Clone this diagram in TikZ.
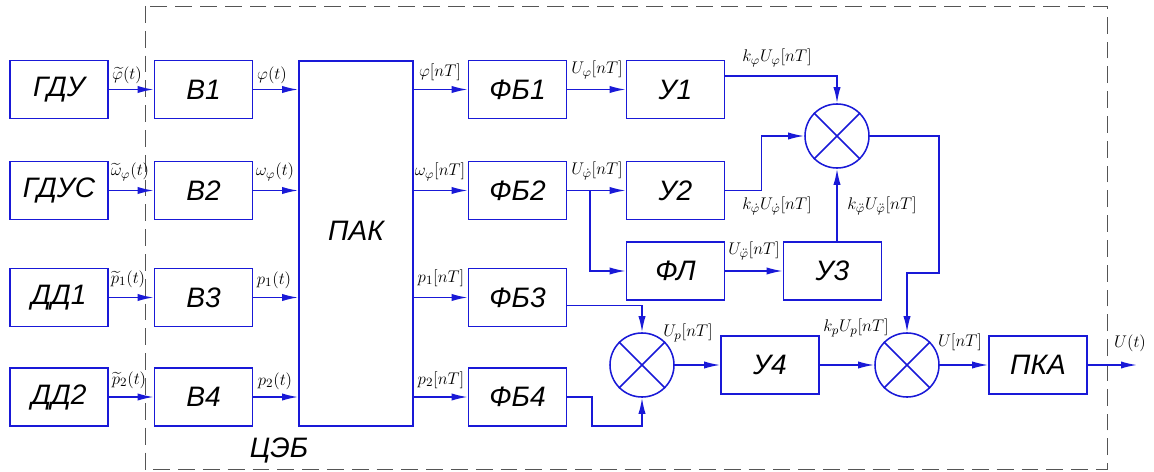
\documentclass[tikz,border=0pt]{standalone}
\usepackage{fontspec}
\setsansfont{Liberation Sans}
\usepackage{amsmath}
\usepackage{tikz}
\usetikzlibrary{arrows.meta, positioning, calc}
\definecolor{lineblue}{RGB}{25,25,215}
\definecolor{framegray}{RGB}{85,85,85}
\newcommand{\blockfont}{\fontsize{20}{24}\selectfont\sffamily\itshape}

\begin{document}
\begin{tikzpicture}[
    x=0.025cm, y=-0.025cm,
    >={Latex[length=4mm, width=1.8mm]},
    block/.style={draw=lineblue, line width=1.1pt, minimum width=2.45cm, minimum height=1.45cm, inner sep=0pt, font=\blockfont},
    mult/.style={draw=lineblue, line width=1.1pt, circle, minimum size=1.6cm, inner sep=0pt},
    sig/.style={->, draw=lineblue, line width=1.1pt},
    lbl/.style={font=\fontsize{12.5}{14}\selectfont, inner sep=0pt}
]
\useasboundingbox (0,0) rectangle (1154,472);

% === рамка ЦЭБ ===
\draw[framegray, line width=0.6pt, dash pattern=on 0.42cm off 0.2cm] (145,6) rectangle (1107,469);
\node[font=\blockfont] (ceb) at (279,450) {ЦЭБ};

% === датчики ===
\node[block] (gdu)  at (59,89.5)  {ГДУ};
\node[block] (gdus) at (59,190.5) {ГДУС};
\node[block] (dd1)  at (59,297.5) {ДД1};
\node[block] (dd2)  at (59,397)   {ДД2};

% === входные блоки ===
\node[block] (v1) at (203.5,89.5)  {В1};
\node[block] (v2) at (203.5,190.5) {В2};
\node[block] (v3) at (203.5,297.5) {В3};
\node[block] (v4) at (203.5,397)   {В4};

% === ПАК ===
\node[draw=lineblue, line width=1.1pt, minimum width=2.85cm, minimum height=9.125cm, inner sep=0pt] (pak) at (356,243.5) {};
\node[font=\blockfont] (paktext) at (356,231) {ПАК};

% === фильтры ===
\node[block] (fb1) at (517.5,89.5)  {ФБ1};
\node[block] (fb2) at (517.5,190.5) {ФБ2};
\node[block] (fb3) at (517.5,297.5) {ФБ3};
\node[block] (fb4) at (517.5,397)   {ФБ4};

% === усилители ===
\node[block] (u1) at (675.5,89.5)  {У1};
\node[block] (u2) at (675.5,190.5) {У2};
\node[block] (fl) at (675.5,271)   {ФЛ};
\node[block] (u3) at (832.5,271)   {У3};
\node[block] (u4) at (770,365)     {У4};
\node[block] (pka) at (1038,365)   {ПКА};

% === множители ===
\node[mult] (mula) at (837,136) {};
\node[mult] (mulb) at (642,365) {};
\node[mult] (mulc) at (907,365) {};
\foreach \m in {mula, mulb, mulc} {
    \draw[lineblue, line width=1.1pt] (\m.45) -- (\m.225);
    \draw[lineblue, line width=1.1pt] (\m.135) -- (\m.-45);
}

% === связи ===
\draw[sig] (gdu) -- (v1);
\draw[sig] (gdus) -- (v2);
\draw[sig] (dd1) -- (v3);
\draw[sig] (dd2) -- (v4);
\foreach \v in {v1, v2, v3, v4}
    \draw[sig] (\v.east) -- (\v.east -| pak.west);
\foreach \f in {fb1, fb2, fb3, fb4}
    \draw[sig] (pak.east |- \f) -- (\f);
\draw[sig] (fb1) -- (u1);
\draw[sig] (fb2) -- (u2);
\coordinate (br) at (590,190.5);
\draw[sig] (br) |- (fl);
\draw[sig] (fl) -- (u3);
\draw[sig] (u1.15) -| (mula.north);
\draw[sig] (u2.east) -- ++(36,0) |- (mula.west);
\draw[sig] (mula |- u3.north) -- (mula.south);
\coordinate (turn) at (939,273);
\draw[sig] (mula.east) -| (turn) -| (mulc.north);
\draw[sig] (fb3.-9) -| (mulb.north);
\coordinate (f4turn) at (592,426);
\draw[sig] (fb4.east) -| (f4turn) -| (mulb.south);
\draw[sig] (mulb) -- (u4);
\draw[sig] (u4) -- (mulc);
\draw[sig] (mulc) -- (pka);
\coordinate (out) at (1137,365);
\draw[sig] (pka) -- (out);

% === подписи сигналов ===
\node[lbl] (l1)  at (127,75)  {$\widetilde{\varphi}(t)$};
\node[lbl] (l2)  at (130,172) {$\widetilde{\omega}_{\varphi}(t)$};
\node[lbl] (l3)  at (128,279) {$\widetilde{p}_1(t)$};
\node[lbl] (l4)  at (129,380) {$\widetilde{p}_2(t)$};
\node[lbl] (l5)  at (272,75)  {$\varphi(t)$};
\node[lbl] (l6)  at (275,172) {$\omega_{\varphi}(t)$};
\node[lbl] (l7)  at (274,280) {$p_1(t)$};
\node[lbl] (l8)  at (275,381) {$p_2(t)$};
\node[lbl] (l9)  at (440,72)  {$\varphi[nT]$};
\node[lbl] (l10) at (440,172) {$\omega_{\varphi}[nT]$};
\node[lbl] (l11) at (441,278) {$p_1[nT]$};
\node[lbl] (l12) at (441,380) {$p_2[nT]$};
\node[lbl] (l13) at (597,70)  {$U_{\varphi}[nT]$};
\node[lbl] (l14) at (597,171) {$U_{\dot{\varphi}}[nT]$};
\node[lbl] (l15) at (777,58)  {$k_{\varphi}U_{\varphi}[nT]$};
\node[lbl] (l16) at (777,206) {$k_{\dot{\varphi}}U_{\dot{\varphi}}[nT]$};
\node[lbl] (l17) at (882,206) {$k_{\ddot{\varphi}}U_{\ddot{\varphi}}[nT]$};
\node[lbl] (l18) at (754,251) {$U_{\ddot{\varphi}}[nT]$};
\node[lbl] (l19) at (688,333) {$U_p[nT]$};
\node[lbl] (l20) at (856,328) {$k_pU_p[nT]$};
\node[lbl] (l21) at (960,342) {$U[nT]$};
\node[lbl] (l22) at (1130,343) {$U(t)$};

\end{tikzpicture}
\end{document}
